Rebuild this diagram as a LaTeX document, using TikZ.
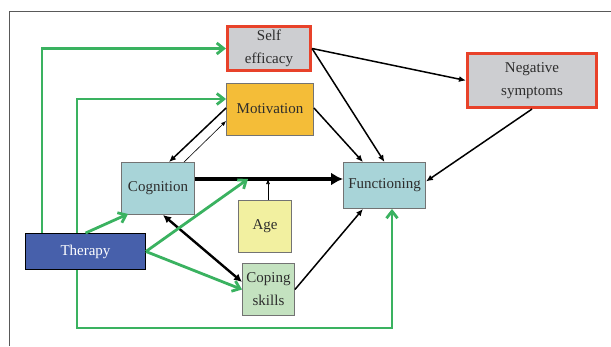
\documentclass[tikz,border=0pt]{standalone}
\usepackage{fontspec}
\setmainfont{Liberation Serif}
\usetikzlibrary{arrows.meta}
\definecolor{gline}{RGB}{58,178,96}
\definecolor{redb}{RGB}{232,66,42}
\definecolor{grayf}{RGB}{205,206,209}
\definecolor{motf}{RGB}{244,189,56}
\definecolor{cyanf}{RGB}{168,212,216}
\definecolor{agef}{RGB}{242,240,160}
\definecolor{copf}{RGB}{196,226,192}
\definecolor{therf}{RGB}{71,96,171}
\definecolor{txt}{RGB}{45,45,45}
\tikzset{
  box/.style={draw=gray!90!black, line width=0.9pt, inner sep=0pt, align=center,
    font=\fontsize{15}{23}\selectfont, text=txt},
  redbox/.style={box, draw=redb, line width=2.6pt},
  garrow/.style={draw=gline, line width=2.8pt, -{Straight Barb[length=7pt,width=11pt]}},
  barrow/.style={draw=black, line width=1.5pt, -{Latex[length=7pt,width=6pt]}},
  thinarrow/.style={draw=black, line width=0.6pt, -{Latex[length=5pt,width=4pt]}},
}
\begin{document}
\begin{tikzpicture}[x=1pt,y=-1pt]
\useasboundingbox (0,0) rectangle (611,346);
\draw[gray!70!black, line width=0.9pt] (9,346) -- (9,11) -- (611,11);

\node[redbox, fill=grayf, minimum width=83.5pt, minimum height=44.5pt] (self) at (269,48.5) {Self\\efficacy};
\node[box, fill=motf, minimum width=87pt, minimum height=52pt] (motiv) at (270,109) {Motivation};
\node[redbox, fill=grayf, minimum width=129.5pt, minimum height=54.5pt] (neg) at (532,80.5) {Negative\\symptoms};
\node[box, fill=cyanf, minimum width=73pt, minimum height=52pt] (cog) at (158,188.5) {Cognition};
\node[box, fill=cyanf, minimum width=82pt, minimum height=46pt] (func) at (384.5,185.5) {Functioning};
\node[box, fill=agef, minimum width=53pt, minimum height=52pt] (age) at (265,226.5) {Age};
\node[box, fill=copf, minimum width=52pt, minimum height=52pt] (cop) at (268.5,289.5) {Coping\\skills};
\node[box, draw=black, line width=1.4pt, fill=therf, text=white, minimum width=119.5pt, minimum height=35.5pt] (ther) at (85.5,251.5) {Therapy};

\coordinate (j) at (248,179);
\coordinate (gb) at (392,328);

% black arrows
\draw[draw=black, line width=4pt, -{Latex[length=12pt,width=13pt]}] ([yshift=9.5pt]cog.east) -- ([yshift=9.5pt]cog.east -| func.west);
\draw[thinarrow] (age.north -| 268,0) -- (j -| 268,0);
\draw[draw=black, line width=2.4pt, {Latex[length=8pt,width=8pt]}-{Latex[length=8pt,width=8pt]}] ([xshift=5pt]cog.south) -- ([yshift=7.5pt]cop.west);
\draw[barrow] ([yshift=1pt]motiv.west) -- ([xshift=11pt]cog.north);
\draw[thinarrow] ([xshift=26pt]cog.north) -- ([yshift=-12pt]motiv.west);
\draw[barrow] ([yshift=1pt]motiv.east) -- ([xshift=-21.5pt]func.north);
\draw[barrow] (self.east) -- (func.north);
\draw[barrow] (self.east) -- (neg.west);
\draw[barrow] (neg.south) -- ([yshift=4pt]func.east);
\draw[barrow] (cop.east) -- ([xshift=-21.5pt]func.south);

% green arrows
\draw[garrow] ([xshift=17pt]ther.north west) |- (self.west);
\draw[garrow] ([xshift=52pt]ther.north west) |- ([yshift=10pt]motiv.west);
\draw[garrow] ([xshift=52pt]ther.south west) |- (gb) -- ([xshift=7.5pt]func.south);
\draw[garrow] (ther.north) -- ([xshift=7pt,yshift=1pt]cog.south west);
\draw[garrow] (ther.east) -- (j);
\draw[garrow] (ther.east) -- (cop.west);
\end{tikzpicture}
\end{document}
